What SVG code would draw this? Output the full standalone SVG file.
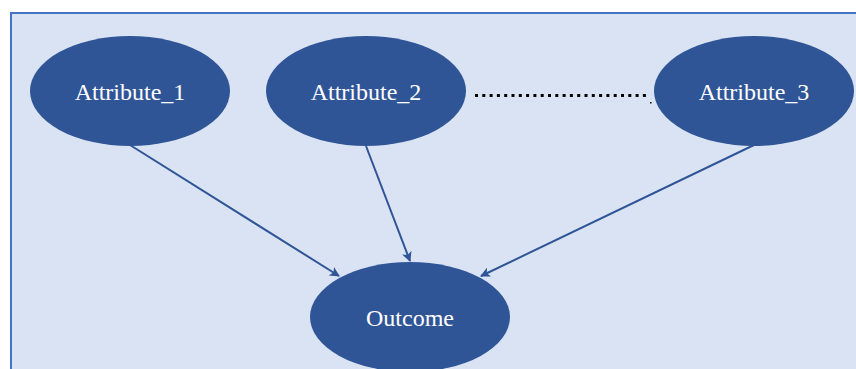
<svg xmlns="http://www.w3.org/2000/svg" width="856" height="369" viewBox="0 0 856 369">
  <style>
    .node { fill: #2f5597; }
    .label { fill: #ffffff; font-family: "Liberation Serif", "Times New Roman", serif; font-size: 24px; text-anchor: middle; }
    .edge { stroke: #2f5597; stroke-width: 2; fill: none; marker-end: url(#arrow); }
  </style>
  <defs>
    <marker id="arrow" viewBox="0 0 10 10" refX="9" refY="5" markerWidth="5" markerHeight="5" orient="auto" markerUnits="strokeWidth">
      <path d="M0,0 L10,5 L0,10 L2.5,5 Z" fill="#2f5597"/>
    </marker>
  </defs>
  <rect x="0" y="0" width="856" height="369" fill="#ffffff"/>
  <rect x="11" y="13" width="860" height="370" fill="#dae3f3" stroke="#4472c4" stroke-width="2"/>

  <g id="connectors">
    <line class="edge" x1="130" y1="145" x2="339" y2="276"/>
    <line class="edge" x1="366" y1="146" x2="410" y2="261"/>
    <line class="edge" x1="754" y1="145" x2="481" y2="276"/>
    <line x1="475" y1="95.5" x2="648" y2="95.5" stroke="#000000" stroke-width="3" stroke-dasharray="3 4.3"/>
    <rect x="650" y="102" width="1.5" height="1.5" fill="#000000"/>
  </g>

  <g id="attribute1">
    <ellipse class="node" cx="130" cy="91" rx="100" ry="55"/>
    <text class="label" x="130" y="100">Attribute_1</text>
  </g>
  <g id="attribute2">
    <ellipse class="node" cx="366" cy="91" rx="100" ry="55"/>
    <text class="label" x="366" y="100">Attribute_2</text>
  </g>
  <g id="attribute3">
    <ellipse class="node" cx="754" cy="91" rx="100" ry="55"/>
    <text class="label" x="754" y="100">Attribute_3</text>
  </g>
  <g id="outcome">
    <ellipse class="node" cx="410" cy="317" rx="100" ry="55"/>
    <text class="label" x="410" y="326">Outcome</text>
  </g>
</svg>
